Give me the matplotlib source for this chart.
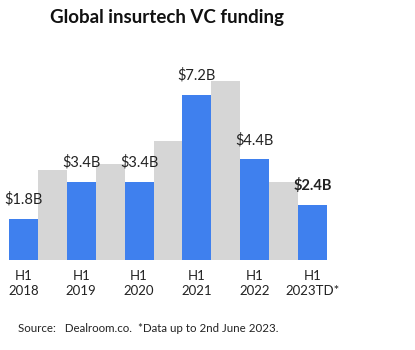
import matplotlib
matplotlib.use("Agg")
import matplotlib.pyplot as plt

# half-year periods, H1 then H2
periods = ["H1 2018", "H2 2018", "H1 2019", "H2 2019", "H1 2020", "H2 2020",
           "H1 2021", "H2 2021", "H1 2022", "H2 2022", "H1 2023TD*"]
funding = [1.8, 3.95, 3.4, 4.2, 3.4, 5.2, 7.2, 7.8, 4.4, 3.4, 2.4]  # $B
tick_labels = ["H1\n2018", "H1\n2019", "H1\n2020", "H1\n2021", "H1\n2022", "H1\n2023TD*"]
value_labels = ["$1.8B", "$3.4B", "$3.4B", "$7.2B", "$4.4B", "$2.4B"]

blue = "#3F80EE"
grey = "#D6D6D6"
txt = "#222222"

plt.rcParams['font.family'] = ['Lato', 'DejaVu Sans']

fig = plt.figure(figsize=(4.15, 3.5), dpi=100)
ax = fig.add_axes([9 / 415, 1 - 260 / 350, 318 / 415, 197 / 350])

x = list(range(len(funding)))
colors = [blue if p.startswith("H1") else grey for p in periods]
ax.bar(x, funding, width=1.0, color=colors, linewidth=0)

h1_idx = [i for i, p in enumerate(periods) if p.startswith("H1")]
for k, i in enumerate(h1_idx):
    bold = (k == len(h1_idx) - 1)
    ax.annotate(value_labels[k], (i, funding[i]), xytext=(0, 14), textcoords="offset points",
                ha="center", va="center", fontsize=10.5, color=txt,
                fontweight="bold" if bold else "normal")

ax.set_xlim(-0.5, len(funding) - 0.5)
ax.set_ylim(0, 8.6)
ax.set_xticks(h1_idx)
ax.set_xticklabels(tick_labels, fontsize=9.5, color=txt, linespacing=1.3)
ax.tick_params(axis="x", length=0, pad=7)
ax.set_yticks([])
for s in ax.spines.values():
    s.set_visible(False)

fig.text(50 / 415, 1 - 18 / 350, "Global insurtech VC funding", fontsize=13.5,
         fontweight="bold", color="#111111", ha="left", va="center")
fig.text(18 / 415, 1 - 329 / 350, "Source:   Dealroom.co.  *Data up to 2nd June 2023.",
         fontsize=8.3, color=txt, ha="left", va="center")

fig.savefig("out.png", dpi=100)
